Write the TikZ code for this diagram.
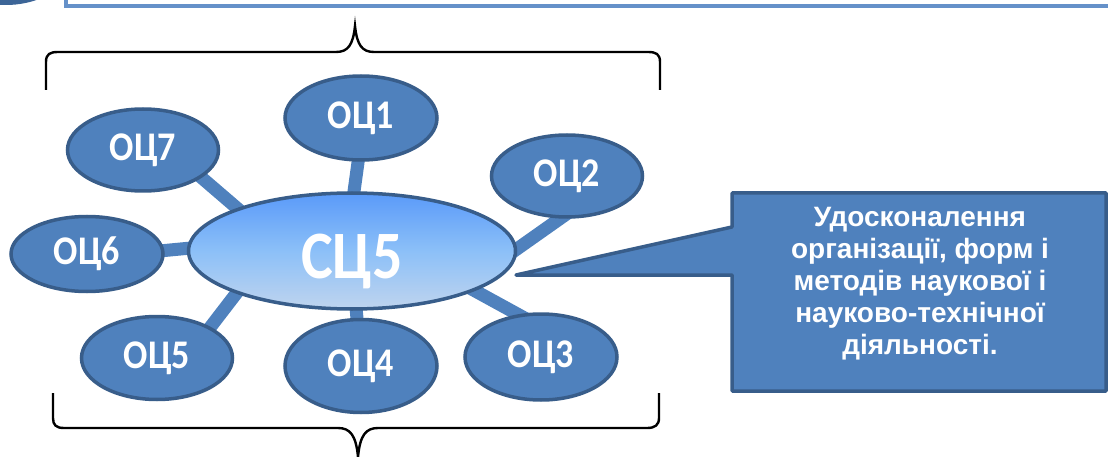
\documentclass[tikz,border=0pt]{standalone}
\usepackage{fontspec}
\usetikzlibrary{shapes.geometric,backgrounds}
\newfontfamily\calfont{Carlito}
\newfontfamily\arifont{Liberation Sans}
\definecolor{satfill}{HTML}{4F81BD}
\definecolor{satdraw}{HTML}{385D8A}
\definecolor{ctop}{HTML}{5A9AF9}
\definecolor{cmid}{HTML}{8CC0F8}
\definecolor{cbot}{HTML}{BFD4EE}
\definecolor{boxline}{HTML}{6591C9}
\definecolor{dotblue}{HTML}{3C6597}
\newcommand{\tallbox}[1]{\scalebox{1}[1.13]{#1}}
\tikzset{
  sat/.style={ellipse, fill=satfill, draw=satdraw, line width=3.5pt, inner sep=0pt,
    text=white, font=\calfont\bfseries\fontsize{36}{36}\selectfont},
  bar/.style={draw=satfill, line width=13pt},
  brace/.style={draw=black, line width=2.4pt},
}
\begin{document}
\begin{tikzpicture}[x=1pt,y=-1pt]
\useasboundingbox (0,0) rectangle (1108,457);
% top decorations
\fill[dotblue] (6,-90) circle (95);
\draw[boxline, line width=3.5pt] (66,-20) -- (66,6) -- (1120,6);
% braces
\draw[brace] (46,90) -- (46,62) .. controls (46,54) and (50,52) .. (58,52) -- (336,52)
  .. controls (348,52) and (353,45) .. (355,26) .. controls (357,45) and (362,52) .. (374,52)
  -- (648,52) .. controls (656,52) and (660,54) .. (660,62) -- (660,90);
\draw[brace] (53,393) -- (53,418) .. controls (53,425) and (56,428) .. (64,428) -- (338,428)
  .. controls (350,428) and (356,435) .. (358,457) .. controls (360,435) and (366,428) .. (378,428)
  -- (647,428) .. controls (655,428) and (659,425) .. (659,418) -- (659,393);
% central
\node[ellipse, top color=ctop, bottom color=cbot, middle color=cmid, draw=satdraw, line width=3.5pt,
  minimum width=327pt, minimum height=116pt, inner sep=0pt] (c) at (352,251) {};
\node[text=white, inner sep=0pt, font=\calfont\bfseries\fontsize{60}{60}\selectfont]
  (ct) at ([shift={(0,10)}]c.center) {\tallbox{СЦ5}};
% satellites
\node[sat, minimum width=152pt, minimum height=84pt] (o1) at (361,118) {\tallbox{ОЦ1}};
\node[sat, minimum width=151pt, minimum height=82pt] (o2) at (567,176) {\tallbox{ОЦ2}};
\node[sat, minimum width=152pt, minimum height=86pt] (o3) at (541,357) {\tallbox{ОЦ3}};
\node[sat, minimum width=152pt, minimum height=93pt] (o4) at (361,366) {\tallbox{ОЦ4}};
\node[sat, minimum width=151pt, minimum height=83pt] (o5) at (157,358) {\tallbox{ОЦ5}};
\node[sat, minimum width=152pt, minimum height=75pt] (o6) at (87,254) {\tallbox{ОЦ6}};
\node[sat, minimum width=151pt, minimum height=82pt] (o7) at (143,150) {\tallbox{ОЦ7}};
% connector bars
\begin{scope}[on background layer]
\draw[bar] ([shift={(-1,30)}]o1.center) -- ([shift={(0,-45)}]c.center);
\draw[bar] ([shift={(8,32)}]o2.center) -- ([shift={(155,5)}]c.center);
\draw[bar] ([shift={(45,16)}]o7.center) -- ([shift={(-100,-30)}]c.center);
\draw[bar] ([shift={(62,-2)}]o6.center) -- ([shift={(-140,-5)}]c.center);
\draw[bar] ([shift={(45,-20)}]o5.center) -- ([shift={(-100,22)}]c.center);
\draw[bar] ([shift={(-3,-36)}]o4.center) -- ([shift={(3,45)}]c.center);
\draw[bar] ([shift={(0,-30)}]o3.center) -- ([shift={(105,30)}]c.center);
\end{scope}
% callout
\draw[fill=satfill, draw=satdraw, line width=3.5pt, line join=round]
  (732,193) -- (1106,193) -- (1106,391) -- (732,391) -- (732,275) -- (516,275) -- (732,227) -- cycle;
\node[text=white, align=center, font=\arifont\bfseries\fontsize{28}{32}\selectfont] (t) at (920,284)
  {Удосконалення\\організації, форм і\\методів наукової і\\науково-технічної\\діяльності.};
\end{tikzpicture}
\end{document}
